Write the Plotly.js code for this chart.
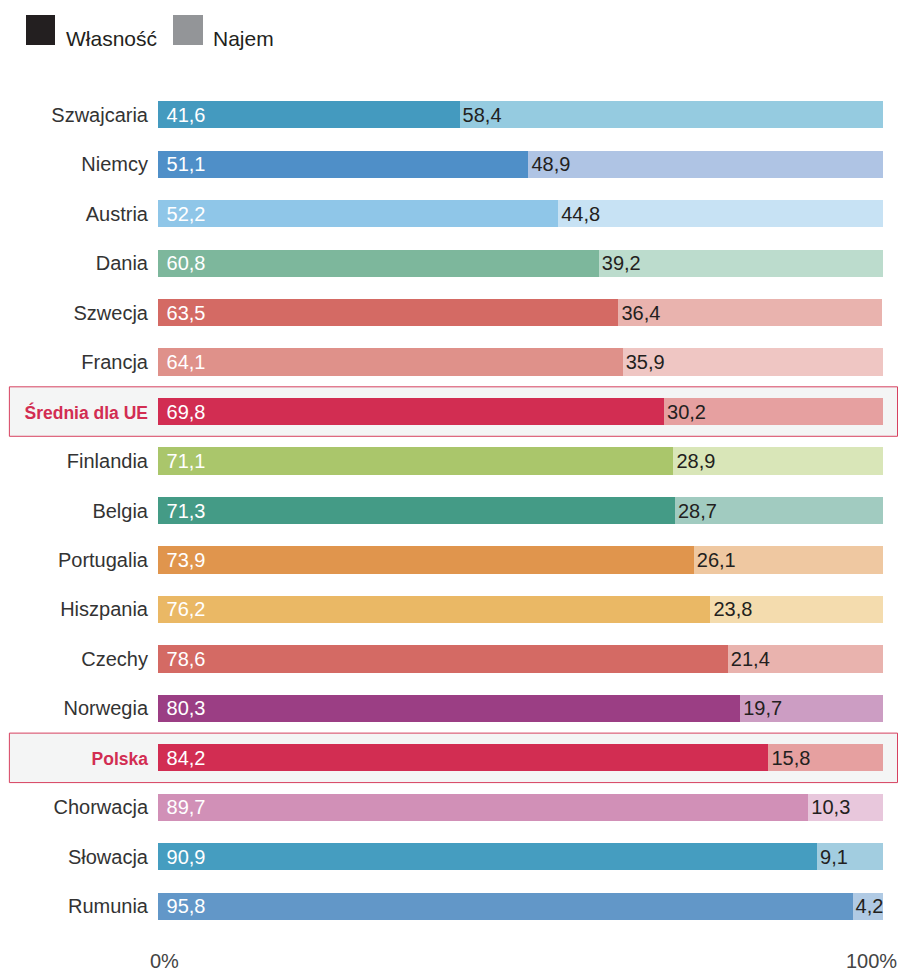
<!DOCTYPE html>
<html><head><meta charset="utf-8">
<script src="https://cdn.plot.ly/plotly-3.0.1.min.js"></script>
<style>html,body{margin:0;padding:0;background:#fff}#chart{width:901px;height:974px}</style>
</head><body><div id="chart"></div>
<script>
const countries = ["Szwajcaria","Niemcy","Austria","Dania","Szwecja","Francja","Średnia dla UE","Finlandia","Belgia","Portugalia","Hiszpania","Czechy","Norwegia","Polska","Chorwacja","Słowacja","Rumunia"];
// bar lengths as drawn in the reference (Austria's bar is drawn at 55.2 although labelled 52,2)
const ownership = [41.6,51.1,55.2,60.8,63.5,64.1,69.8,71.1,71.3,73.9,76.2,78.6,80.3,84.2,89.7,90.9,95.8];
const ownershipLabels = ["41,6","51,1","52,2","60,8","63,5","64,1","69,8","71,1","71,3","73,9","76,2","78,6","80,3","84,2","89,7","90,9","95,8"];
const rent = [58.4,48.9,44.8,39.2,36.4,35.9,30.2,28.9,28.7,26.1,23.8,21.4,19.7,15.8,10.3,9.1,4.2];
const ownColors = ["#449abf","#4f8fc8","#8fc6e8","#7db79c","#d46a64","#df918a","#d22d52","#aac66b","#449b86","#e0954d","#eab865","#d46a64","#9b3e84","#d22d52","#d190b7","#459dc0","#6297c8"];
const rentColors = ["#95cbe0","#afc4e4","#c7e2f4","#bcdccd","#e9b3ae","#efc6c3","#e6a0a0","#d9e6b8","#a1cbc0","#efc8a1","#f4dcae","#e9b3ae","#cc9dc3","#e6a0a0","#e8c7dc","#a2cde0","#b0cae4"];
const highlighted = ["Średnia dla UE","Polska"];
const legendLabels = ["Własność","Najem"];
const axisLabels = ["0%","100%"];

const fmt = v => v.toFixed(1).replace('.', ',');
const font = "Liberation Sans, Arial, sans-serif";

const ticktext = countries.map(c => highlighted.includes(c)
  ? '<b><span style="color:#d22d52;font-size:17.5px">' + c + '</span></b>' : c);

const common = {
  type: 'bar', orientation: 'h', y: countries, width: 0.55,
  textposition: 'inside', insidetextanchor: 'start', constraintext: 'none',
  cliponaxis: false, hoverinfo: 'skip', showlegend: false
};
const traces = [
  Object.assign({}, common, {x: ownership, marker: {color: ownColors, line: {width: 0}},
    text: ownershipLabels.map(s => '\u00a0' + s), textfont: {family: font, size: 20, color: '#ffffff'}}),
  Object.assign({}, common, {x: rent, marker: {color: rentColors, line: {width: 0}},
    text: rent.map(fmt), textfont: {family: font, size: 20, color: '#231f20'}})
];

const shapes = [];
highlighted.forEach(h => {
  const i = countries.indexOf(h);
  shapes.push({type: 'rect', layer: 'below', xref: 'paper', yref: 'y',
    x0: -0.205, x1: 1.02, y0: i - 0.5, y1: i + 0.5,
    fillcolor: '#f4f5f5', line: {color: '#d6405f', width: 1}});
});
// legend swatches
shapes.push({type:'rect', xref:'paper', yref:'paper', x0:(26-158)/725, x1:(55-158)/725, y0:(931-15)/841, y1:(931-45)/841, fillcolor:'#231f20', line:{width:0}});
shapes.push({type:'rect', xref:'paper', yref:'paper', x0:(173-158)/725, x1:(203-158)/725, y0:(931-15)/841, y1:(931-45)/841, fillcolor:'#939598', line:{width:0}});

const annotations = [
  {xref:'paper', yref:'paper', x:(64-158)/725, y:(931-39)/841, xanchor:'left', yanchor:'middle', showarrow:false, text: legendLabels[0], font:{family:font, size:21, color:'#231f20'}},
  {xref:'paper', yref:'paper', x:(211-158)/725, y:(931-39)/841, xanchor:'left', yanchor:'middle', showarrow:false, text: legendLabels[1], font:{family:font, size:21, color:'#231f20'}},
  {xref:'x', yref:'paper', x:0, y:-(961-931)/841, xanchor:'left', xshift:-10, yanchor:'middle', showarrow:false, text: axisLabels[0], font:{family:font, size:20, color:'#444'}},
  {xref:'x', yref:'paper', x:100, y:-(961-931)/841, xanchor:'right', xshift:16, yanchor:'middle', showarrow:false, text: axisLabels[1], font:{family:font, size:20, color:'#444'}}
];

const layout = {
  width: 901, height: 974,
  margin: {l: 158, r: 18, t: 90, b: 43},
  barmode: 'stack',
  paper_bgcolor: '#ffffff', plot_bgcolor: 'rgba(0,0,0,0)',
  font: {family: font, size: 20, color: '#231f20'},
  xaxis: {range: [0, 100], showgrid: false, zeroline: false, showticklabels: false, fixedrange: true},
  yaxis: {type: 'category', autorange: 'reversed', tickvals: countries, ticktext: ticktext,
    showgrid: false, zeroline: false, ticks: '', ticklabelstandoff: 9,
    tickfont: {family: font, size: 20, color: '#333'}},
  shapes: shapes, annotations: annotations
};
Plotly.newPlot('chart', traces, layout, {displayModeBar: false, staticPlot: true});
</script></body></html>
